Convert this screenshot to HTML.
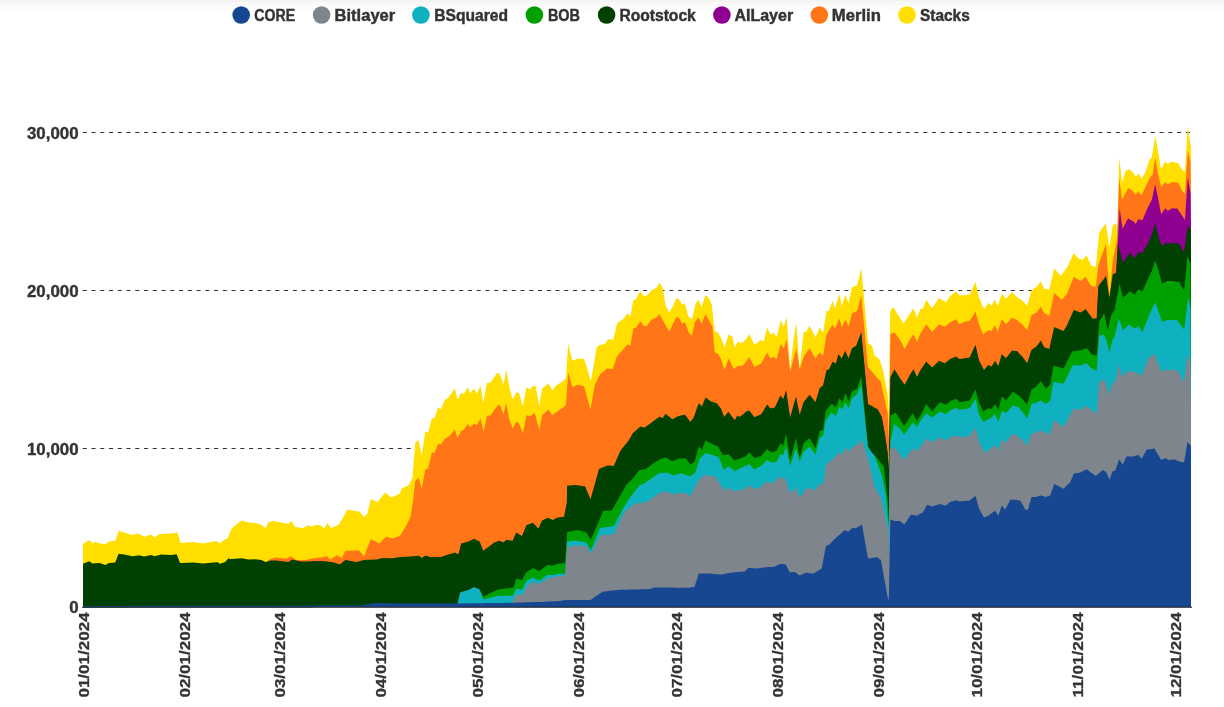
<!DOCTYPE html>
<html><head><meta charset="utf-8"><style>
html,body{margin:0;padding:0;background:#fff;width:1224px;height:707px;overflow:hidden}
.top{position:absolute;left:0;top:0;width:1224px;height:12px;background:linear-gradient(#f4f4f4 0px,#f4f4f4 2px,#f9f9f9 2px,#f9f9f9 5px,#fcfcfc 5px,#fdfdfd 12px)}
svg{position:absolute;left:0;top:0}
.xl,.yl,.lg{font-family:"Liberation Sans",Arial,sans-serif;font-weight:bold;font-size:15.2px;fill:#333}
.lg{font-size:16px;stroke:#333;stroke-width:0.45px}
.yl{font-size:15.6px;stroke:#333;stroke-width:0.35px}
.xl{stroke:#333;stroke-width:0.3px}
</style></head><body>
<div class="top"></div>
<svg width="1224" height="707" viewBox="0 0 1224 707">
<circle cx="241.2" cy="15" r="8.8" fill="#174791"/><text x="254.3" y="21.0" textLength="40.8" lengthAdjust="spacingAndGlyphs" class="lg">CORE</text><circle cx="321.6" cy="15" r="8.8" fill="#7E858D"/><text x="334.6" y="21.0" textLength="60.6" lengthAdjust="spacingAndGlyphs" class="lg">Bitlayer</text><circle cx="420.9" cy="15" r="8.8" fill="#0FB0C0"/><text x="434.3" y="21.0" textLength="73.8" lengthAdjust="spacingAndGlyphs" class="lg">BSquared</text><circle cx="534.4" cy="15" r="8.8" fill="#00A000"/><text x="547.9" y="21.0" textLength="32.1" lengthAdjust="spacingAndGlyphs" class="lg">BOB</text><circle cx="606.6" cy="15" r="8.8" fill="#004000"/><text x="619.4" y="21.0" textLength="76.4" lengthAdjust="spacingAndGlyphs" class="lg">Rootstock</text><circle cx="721.9" cy="15" r="8.8" fill="#900090"/><text x="734.4" y="21.0" textLength="58.8" lengthAdjust="spacingAndGlyphs" class="lg">AILayer</text><circle cx="819.3" cy="15" r="8.8" fill="#FF7518"/><text x="831.8" y="21.0" textLength="49.0" lengthAdjust="spacingAndGlyphs" class="lg">Merlin</text><circle cx="907.0" cy="15" r="8.8" fill="#FFDE00"/><text x="920.0" y="21.0" textLength="49.7" lengthAdjust="spacingAndGlyphs" class="lg">Stacks</text>
<line x1="82.7" x2="1191" y1="448.5" y2="448.5" stroke="#333" stroke-width="1" stroke-dasharray="4.1 4.655"/><line x1="82.7" x2="1191" y1="290.5" y2="290.5" stroke="#333" stroke-width="1" stroke-dasharray="4.1 4.655"/><line x1="82.7" x2="1191" y1="132.5" y2="132.5" stroke="#333" stroke-width="1" stroke-dasharray="4.1 4.655"/>
<path d="M83.0,607.0 L83.0,544.1 89.2,539.9 92.4,543.3 95.7,542.0 99.6,543.3 105.5,544.2 108.8,541.7 109.4,541.2 115.3,540.9 118.6,531.1 124.4,532.4 132.3,535.0 138.2,533.5 138.8,533.8 144.1,536.7 151.2,534.4 154.5,537.4 158.4,534.4 161.0,534.1 165.0,533.7 171.5,533.5 176.7,532.5 177.4,532.4 180.0,540.7 180.7,542.9 193.7,542.0 202.9,543.5 216.6,540.9 217.3,541.5 219.9,543.5 223.8,539.9 225.1,539.4 227.7,538.3 229.0,535.0 230.0,532.5 231.6,528.5 235.1,525.6 241.9,520.2 247.0,522.2 248.7,522.4 255.5,523.1 261.4,524.8 265.6,528.2 268.2,522.2 270.7,521.7 274.1,521.0 275.8,521.4 280.9,522.6 286.0,523.5 288.5,523.9 291.1,520.9 291.9,522.1 295.3,527.0 296.2,527.1 301.3,527.9 303.0,528.2 306.3,526.3 308.0,525.3 309.7,525.9 311.4,526.5 314.8,525.4 316.5,524.8 320.8,525.6 321.6,526.3 324.2,528.7 326.7,524.6 327.6,523.1 330.1,526.9 331.0,528.2 331.8,527.8 336.9,525.6 338.6,524.8 340.3,522.0 342.0,519.3 342.8,518.0 345.4,512.9 347.1,509.5 352.2,510.5 355.6,511.2 356.4,511.3 358.9,511.6 359.8,511.7 360.0,512.0 364.0,517.1 367.4,513.8 370.8,499.3 375.0,500.9 375.9,501.2 377.6,501.9 379.3,499.8 382.7,495.6 385.2,492.5 386.1,493.3 391.2,497.6 392.9,496.8 400.0,493.4 401.4,488.7 402.4,488.2 406.0,486.4 408.8,485.0 410.6,481.4 412.5,477.7 413.4,466.0 415.2,442.7 418.5,440.0 418.9,441.9 421.7,455.6 425.3,431.7 428.1,432.6 429.9,425.7 431.8,418.5 434.5,417.9 438.2,407.4 441.0,409.3 444.6,400.1 448.3,397.7 450.0,395.3 450.2,395.0 454.8,388.5 457.5,399.5 458.4,397.8 460.3,394.4 461.2,392.7 463.9,394.0 467.6,387.2 468.5,389.1 470.4,393.1 474.1,388.5 476.8,394.0 479.6,387.5 480.5,385.4 483.3,403.2 483.6,401.5 486.9,383.0 490.6,382.4 494.3,376.9 497.0,372.9 498.0,373.2 498.9,373.5 499.8,373.8 500.0,374.4 503.5,384.8 505.3,375.0 506.2,370.1 509.0,384.7 509.9,389.4 512.7,399.5 513.6,397.7 516.3,392.2 519.1,393.1 521.9,402.9 522.8,406.0 526.5,387.2 527.4,387.7 530.1,389.4 532.9,386.1 534.7,386.1 535.6,386.1 538.4,401.2 539.3,406.0 540.0,401.6 542.1,388.5 547.6,384.2 548.5,383.5 552.2,390.3 553.1,389.2 555.9,385.7 556.8,385.1 557.7,384.5 560.0,382.9 564.1,380.2 565.0,378.9 565.1,378.8 566.0,377.5 566.9,363.7 567.1,360.6 568.2,343.8 570.3,352.3 572.4,360.8 575.6,359.5 577.7,358.7 584.1,358.7 585.2,362.3 586.2,365.6 590.5,379.7 590.9,381.0 594.7,359.1 596.8,347.0 599.0,345.6 600.0,345.0 603.2,344.3 605.0,343.9 607.1,340.4 607.5,339.8 607.8,339.3 611.7,339.5 612.7,339.6 613.4,339.6 613.8,337.8 617.0,323.5 618.1,322.7 620.2,321.1 621.2,320.4 623.3,318.8 623.4,318.7 624.4,317.5 626.6,314.8 627.6,313.6 628.7,314.5 630.4,316.0 632.9,302.6 633.3,300.4 635.0,299.6 636.1,299.0 639.3,293.1 640.3,291.2 640.4,291.3 643.9,296.2 644.6,296.0 645.7,295.8 646.7,295.5 649.9,292.2 651.6,290.5 652.0,290.3 654.2,289.0 656.6,287.7 658.4,284.4 659.4,282.5 659.5,282.7 662.3,287.0 662.6,288.6 665.8,306.1 666.9,308.1 669.3,312.5 672.2,307.3 672.9,306.1 673.3,305.2 676.4,298.0 678.6,299.3 679.2,299.7 679.6,300.4 680.7,302.3 682.1,304.7 684.9,303.3 686.0,307.5 688.1,315.6 688.4,316.7 689.1,317.1 690.2,317.8 692.0,318.8 693.4,312.9 694.5,308.2 694.8,307.0 695.5,304.0 698.3,299.7 698.7,300.6 699.8,303.1 701.6,307.1 701.9,306.2 705.1,296.1 705.4,295.2 705.5,295.3 709.0,298.3 709.3,299.0 710.4,301.5 711.5,304.0 711.8,304.7 712.5,311.2 713.6,321.5 714.6,330.8 715.7,331.5 716.8,332.1 717.8,332.8 718.2,333.0 718.9,334.3 721.0,338.0 721.7,339.3 722.1,340.5 723.1,343.4 723.8,345.4 724.2,346.6 724.5,347.5 728.4,335.6 728.8,334.4 732.3,336.5 733.7,343.1 734.7,347.8 734.8,347.6 737.0,343.4 737.3,342.8 738.0,341.5 739.1,342.4 740.0,343.1 743.4,342.3 745.0,340.1 745.1,340.0 746.8,337.7 748.5,335.4 749.3,334.3 754.4,344.8 754.8,344.5 761.2,339.7 763.8,341.4 767.1,327.5 767.6,328.6 770.5,334.7 771.4,334.1 771.8,333.8 773.6,332.6 773.9,333.1 774.8,334.5 776.5,337.2 779.2,326.3 780.3,321.8 780.4,321.4 780.7,320.2 783.3,325.9 783.8,327.0 785.6,320.7 786.1,318.9 786.7,316.8 789.8,365.6 790.1,370.3 793.4,339.7 795.1,330.0 796.0,324.8 796.2,323.7 796.3,323.1 799.7,368.6 799.8,367.7 803.6,332.1 804.7,332.1 805.7,332.1 806.2,332.1 809.6,325.8 810.0,326.6 813.2,332.8 814.2,334.7 815.5,337.2 819.5,328.0 819.7,327.5 821.7,330.7 823.1,333.0 823.8,328.5 825.7,316.1 825.9,314.8 826.5,310.9 829.1,310.6 829.9,308.3 831.6,303.3 832.5,300.7 833.3,303.2 835.0,308.4 835.9,305.4 838.4,296.9 839.3,293.9 841.8,305.8 842.6,303.4 845.0,296.3 845.2,295.7 845.5,294.8 848.2,302.2 848.6,303.3 852.0,287.1 852.4,287.0 855.6,286.0 856.2,285.8 857.1,285.5 861.3,268.1 862.0,275.9 868.0,342.9 869.9,344.3 871.9,345.8 873.8,352.3 874.2,353.7 874.8,355.7 876.8,357.3 876.9,357.4 877.8,358.1 879.8,359.7 880.8,363.3 880.9,363.6 881.8,366.8 882.3,368.6 883.7,373.6 884.7,379.0 886.3,387.5 887.7,395.0 888.8,415.0 889.8,340.6 890.2,310.9 890.4,310.7 890.5,310.5 893.3,307.1 894.4,308.9 894.5,309.1 895.8,311.2 897.1,313.4 900.0,318.1 900.9,319.6 903.4,323.6 904.2,322.4 904.7,321.6 910.0,313.4 911.0,312.0 912.7,309.5 913.6,308.2 917.0,317.5 920.4,309.0 922.1,308.8 922.9,308.7 926.3,299.7 927.1,300.9 932.2,308.2 939.0,298.0 939.9,298.6 945.0,301.7 945.8,302.2 950.1,296.3 950.9,295.6 956.0,291.2 959.4,295.4 960.2,295.4 964.5,295.1 966.2,294.9 969.6,294.6 975.5,281.9 978.9,297.1 983.1,307.3 984.0,308.0 984.8,308.7 988.2,303.1 991.6,305.6 995.0,299.2 997.6,306.5 998.4,304.1 1001.8,293.8 1005.2,297.8 1006.0,298.8 1010.3,294.0 1012.0,292.1 1012.8,292.9 1015.4,295.4 1017.1,297.1 1018.8,298.2 1020.5,299.4 1022.2,300.5 1025.6,304.0 1027.2,305.6 1028.1,302.4 1031.5,290.4 1035.7,287.6 1036.6,287.0 1040.8,281.0 1044.2,288.7 1045.9,289.0 1049.3,289.5 1050.2,285.6 1053.4,271.8 1054.2,268.4 1061.0,276.0 1061.9,274.7 1063.6,272.3 1067.0,267.5 1070.4,260.3 1072.1,256.7 1072.9,255.0 1073.8,253.1 1078.0,258.2 1079.7,258.9 1080.5,259.2 1082.2,259.9 1085.6,256.5 1086.5,255.6 1090.7,264.0 1091.6,265.8 1092.4,266.0 1095.8,266.7 1096.7,257.7 1098.4,240.7 1099.2,232.7 1102.6,227.8 1103.5,226.5 1104.3,225.4 1105.7,223.4 1106.0,225.3 1107.7,236.3 1109.4,247.2 1111.1,236.2 1112.8,225.1 1114.5,224.2 1115.3,223.9 1116.2,223.4 1117.0,240.3 1117.9,205.5 1118.7,175.8 1119.2,157.3 1119.6,160.8 1122.1,182.8 1122.6,181.1 1123.0,179.6 1125.5,170.9 1126.4,170.4 1128.1,169.4 1128.9,168.9 1129.8,169.7 1133.1,172.6 1134.0,174.1 1134.8,175.3 1135.7,176.8 1136.5,175.7 1138.2,173.5 1141.6,178.5 1142.5,176.9 1145.0,172.5 1145.9,170.9 1146.7,168.3 1147.6,165.4 1148.4,162.8 1149.3,159.9 1150.1,159.1 1151.8,157.3 1152.7,151.7 1154.4,141.1 1155.2,136.1 1157.8,149.7 1158.6,154.4 1161.1,169.2 1162.0,167.6 1165.4,161.6 1167.1,163.3 1167.9,164.1 1168.8,163.4 1171.3,161.6 1172.2,161.8 1174.7,162.5 1177.3,163.1 1178.1,163.3 1179.0,164.7 1182.4,170.1 1184.1,171.3 1184.9,171.8 1186.6,144.9 1187.5,130.6 1187.8,125.9 1188.3,129.5 1190.5,145.5 1191.0,145.5 L1191.0,607.0 Z" fill="#FFDE00"/><path d="M83.0,607.0 L83.0,565.3 89.2,562.7 92.4,565.0 95.7,564.7 99.6,564.4 105.5,566.6 108.8,564.4 109.4,564.4 115.3,564.0 118.6,555.2 124.4,556.1 132.3,557.8 138.2,556.9 138.8,556.8 144.1,558.1 151.2,556.5 154.5,557.8 158.4,556.8 161.0,556.1 165.0,556.3 171.5,556.5 176.7,555.7 177.4,557.5 180.0,564.4 180.7,564.4 193.7,564.0 202.9,564.9 216.6,563.7 217.3,563.6 219.9,565.3 223.8,564.0 225.1,563.6 227.7,560.8 229.0,559.4 230.0,560.7 231.6,560.6 235.1,560.3 241.9,559.7 247.0,560.8 248.7,561.1 255.5,560.7 261.4,561.4 265.6,563.6 268.2,560.4 270.7,558.7 274.1,557.9 275.8,557.5 280.9,558.1 286.0,558.7 288.5,557.6 291.1,556.5 291.9,557.0 295.3,559.3 296.2,559.9 301.3,559.9 303.0,559.9 306.3,559.9 308.0,559.5 309.7,559.1 311.4,558.7 314.8,557.9 316.5,557.8 320.8,557.5 321.6,557.5 324.2,556.8 326.7,556.2 327.6,557.1 330.1,559.6 331.0,559.0 331.8,558.5 336.9,555.3 338.6,556.2 340.3,557.0 342.0,557.9 342.8,556.2 345.4,550.7 347.1,550.7 352.2,550.7 355.6,550.4 356.4,550.4 358.9,550.2 359.8,551.3 360.0,551.5 364.0,556.2 367.4,547.7 370.8,539.2 375.0,541.3 375.9,541.7 377.6,542.6 379.3,543.4 382.7,540.1 385.2,537.6 386.1,536.7 391.2,538.0 392.9,538.4 400.0,535.8 401.4,533.5 402.4,531.9 406.0,526.0 408.8,520.4 410.6,516.8 412.5,504.3 413.4,498.4 415.2,481.3 418.5,477.7 418.9,479.1 421.7,488.7 425.3,469.4 428.1,468.5 429.9,460.9 431.8,452.8 434.5,452.8 438.2,443.7 441.0,444.6 444.6,439.1 448.3,436.7 450.0,435.5 450.2,435.4 454.8,429.5 457.5,438.1 458.4,436.3 460.3,432.6 461.2,430.8 463.9,429.9 467.6,424.0 468.5,425.0 470.4,427.1 474.1,423.4 476.8,425.3 479.6,420.2 480.5,418.5 483.3,430.8 483.6,432.1 486.9,416.1 490.6,415.2 494.3,410.1 497.0,406.4 498.0,405.0 498.9,405.0 499.8,405.0 500.0,405.5 503.5,414.2 505.3,406.5 506.2,402.7 509.0,418.8 509.9,421.1 512.7,428.4 513.6,426.7 516.3,421.6 519.1,423.4 521.9,431.0 522.8,433.5 526.5,415.2 527.4,415.4 530.1,416.1 532.9,414.2 534.7,413.0 535.6,416.3 538.4,426.6 539.3,429.9 540.0,426.2 542.1,415.2 547.6,410.4 548.5,409.6 552.2,415.2 553.1,414.5 555.9,412.4 556.8,411.8 557.7,411.2 560.0,409.6 564.1,406.9 565.0,405.6 565.1,405.4 566.0,404.1 566.9,391.2 567.1,388.3 568.2,372.5 570.3,379.9 572.4,387.3 575.6,385.8 577.7,384.8 584.1,386.3 585.2,390.3 586.2,393.9 590.5,409.6 590.9,407.3 594.7,385.2 596.8,381.0 599.0,376.6 600.0,374.6 603.2,371.8 605.0,370.2 607.1,368.3 607.5,368.4 607.8,368.4 611.7,369.0 612.7,369.1 613.4,367.0 613.8,365.8 617.0,356.3 618.1,355.0 620.2,352.6 621.2,351.4 623.3,349.1 623.4,349.0 624.4,347.9 626.6,345.4 627.6,344.3 628.7,344.9 630.4,345.7 632.9,331.0 633.3,328.7 635.0,328.1 636.1,327.7 639.3,322.7 640.3,321.2 640.4,321.3 643.9,325.9 644.6,325.9 645.7,325.9 646.7,325.9 649.9,321.7 651.6,319.5 652.0,319.3 654.2,318.4 656.6,317.4 658.4,315.3 659.4,314.1 659.5,314.3 662.3,319.2 662.6,319.8 665.8,325.4 666.9,327.4 669.3,331.6 672.2,325.5 672.9,324.0 673.3,323.2 676.4,316.7 678.6,317.8 679.2,318.1 679.6,318.9 680.7,321.0 682.1,323.8 684.9,322.1 686.0,325.0 688.1,330.4 688.4,331.2 689.1,333.0 690.2,334.1 692.0,335.8 693.4,329.1 694.5,323.8 694.8,322.4 695.5,321.4 698.3,317.4 698.7,318.2 699.8,320.3 701.6,323.8 701.9,323.0 705.1,314.9 705.4,314.1 705.5,314.3 709.0,320.6 709.3,321.1 710.4,323.1 711.5,324.9 711.8,325.4 712.5,326.6 713.6,340.0 714.6,352.1 715.7,352.7 716.8,353.4 717.8,354.0 718.2,354.2 718.9,355.4 721.0,359.1 721.7,361.2 722.1,362.5 723.1,365.5 723.8,367.7 724.2,368.9 724.5,369.8 728.4,359.5 728.8,358.4 732.3,366.0 733.7,369.1 734.7,368.3 734.8,368.2 737.0,366.4 737.3,366.2 738.0,366.1 739.1,366.1 740.0,366.0 743.4,365.2 745.0,363.0 745.1,362.8 746.8,360.5 748.5,358.1 749.3,357.0 754.4,366.9 754.8,366.7 761.2,363.5 763.8,358.7 767.1,352.5 767.6,353.4 770.5,358.4 771.4,357.9 771.8,357.7 773.6,356.7 773.9,357.0 774.8,357.8 776.5,359.3 779.2,349.5 780.3,345.5 780.4,345.1 780.7,344.0 783.3,347.5 783.8,348.2 785.6,342.4 786.1,340.8 786.7,338.9 789.8,368.6 790.1,371.5 793.4,359.1 795.1,352.7 796.0,349.3 796.2,348.6 796.3,348.2 799.7,369.5 799.8,369.2 803.6,356.7 804.7,355.1 805.7,353.7 806.2,353.0 809.6,348.2 810.0,348.9 813.2,354.4 814.2,356.2 815.5,358.4 819.5,352.8 819.7,352.5 821.7,354.5 823.1,355.9 823.8,351.5 825.7,339.7 825.9,338.4 826.5,334.7 829.1,330.3 829.9,328.9 831.6,326.0 832.5,324.5 833.3,325.8 835.0,328.7 835.9,326.6 838.4,320.6 839.3,318.5 841.8,327.0 842.6,325.4 845.0,320.4 845.2,320.0 845.5,319.4 848.2,325.6 848.6,326.5 852.0,313.4 852.4,313.2 855.6,311.6 856.2,311.3 857.1,310.9 861.3,295.6 862.0,303.1 868.0,367.6 869.9,369.5 871.9,371.6 873.8,373.9 874.2,374.4 874.8,375.1 876.8,377.5 876.9,377.6 877.8,378.5 879.8,380.5 880.8,381.5 880.9,382.0 881.8,386.3 882.3,388.6 883.7,395.3 884.7,399.8 886.3,406.9 887.7,413.2 888.8,440.0 889.8,377.5 890.2,352.5 890.4,340.0 890.5,333.8 893.3,332.9 894.4,332.5 894.5,332.5 895.8,334.3 897.1,336.1 900.0,340.1 900.9,341.4 903.4,346.5 904.2,348.1 904.7,349.1 910.0,338.9 911.0,337.7 912.7,335.6 913.6,334.5 917.0,342.1 920.4,333.6 922.1,330.9 922.9,329.7 926.3,324.3 927.1,325.3 932.2,331.9 939.0,324.3 939.9,324.7 945.0,326.8 945.8,326.1 950.1,322.6 950.9,322.1 956.0,319.2 959.4,324.3 960.2,323.9 964.5,321.7 966.2,321.4 969.6,320.9 975.5,311.6 978.9,324.3 983.1,334.5 984.0,333.7 984.8,333.1 988.2,330.2 991.6,331.1 995.0,325.1 997.6,331.9 998.4,329.5 1001.8,319.2 1005.2,323.3 1006.0,324.3 1010.3,319.4 1012.0,317.5 1012.8,317.9 1015.4,319.2 1017.1,320.1 1018.8,321.5 1020.5,322.9 1022.2,324.3 1025.6,328.3 1027.2,330.2 1028.1,327.0 1031.5,315.0 1035.7,312.9 1036.6,312.4 1040.8,306.5 1044.2,313.3 1045.9,314.1 1049.3,315.8 1050.2,311.6 1053.4,296.7 1054.2,293.0 1061.0,299.0 1061.9,299.8 1063.6,297.8 1067.0,293.8 1070.4,285.3 1072.1,281.1 1072.9,279.0 1073.8,276.8 1078.0,279.5 1079.7,280.6 1080.5,281.1 1082.2,279.7 1085.6,276.8 1086.5,278.3 1090.7,285.3 1091.6,285.6 1092.4,285.9 1095.8,287.0 1096.7,279.4 1098.4,265.0 1099.2,262.8 1102.6,253.3 1103.5,250.8 1104.3,248.5 1105.7,244.6 1106.0,243.8 1107.7,270.1 1109.4,296.4 1111.1,278.6 1112.8,260.7 1114.5,252.2 1115.3,248.3 1116.2,243.8 1117.0,238.8 1117.9,214.1 1118.7,192.2 1119.2,178.5 1119.6,181.4 1122.1,199.8 1122.6,198.8 1123.0,198.0 1125.5,193.1 1126.4,191.3 1128.1,187.9 1128.9,188.4 1129.8,189.1 1133.1,191.3 1134.0,192.5 1134.8,193.5 1135.7,194.7 1136.5,193.6 1138.2,191.3 1141.6,195.5 1142.5,193.5 1145.0,187.9 1145.9,186.1 1146.7,184.5 1147.6,182.7 1148.4,181.1 1149.3,179.3 1150.1,177.7 1151.8,175.5 1152.7,174.3 1154.4,162.7 1155.2,157.3 1157.8,172.6 1158.6,176.1 1161.1,187.0 1162.0,185.9 1165.4,181.9 1167.1,183.7 1167.9,184.5 1168.8,184.0 1171.3,182.4 1172.2,181.9 1174.7,182.3 1177.3,182.7 1178.1,182.8 1179.0,184.6 1182.4,191.3 1184.1,193.0 1184.9,193.8 1186.6,168.4 1187.5,155.0 1187.8,150.5 1188.3,152.7 1190.5,162.4 1191.0,231.7 L1191.0,607.0 Z" fill="#FF7518"/><path d="M83.0,607.0 L83.0,565.3 89.2,562.7 92.4,565.0 95.7,564.7 99.6,564.4 105.5,566.6 108.8,564.4 109.4,564.4 115.3,564.0 118.6,555.2 124.4,556.1 132.3,557.8 138.2,556.9 138.8,556.8 144.1,558.1 151.2,556.5 154.5,557.8 158.4,556.8 161.0,556.1 165.0,556.3 171.5,556.5 176.7,555.7 177.4,557.5 180.0,564.4 180.7,564.4 193.7,564.0 202.9,564.9 216.6,563.7 217.3,563.6 219.9,565.3 223.8,564.0 225.1,563.6 227.7,560.8 229.0,559.4 230.0,560.7 231.6,560.6 235.1,560.3 241.9,559.7 247.0,560.8 248.7,561.1 255.5,560.7 261.4,561.4 265.6,563.6 268.2,562.7 270.7,561.9 274.1,562.1 275.8,562.1 280.9,562.4 286.0,563.2 288.5,563.6 291.1,561.7 291.9,561.1 295.3,561.8 296.2,562.0 301.3,563.1 303.0,563.0 306.3,562.9 308.0,562.9 309.7,562.8 311.4,562.7 314.8,562.6 316.5,562.6 320.8,562.4 321.6,562.4 324.2,562.7 326.7,563.0 327.6,563.1 330.1,563.4 331.0,563.5 331.8,563.6 336.9,564.9 338.6,565.4 340.3,565.8 342.0,564.3 342.8,563.6 345.4,561.4 347.1,561.7 352.2,562.8 355.6,563.4 356.4,563.6 358.9,562.9 359.8,562.6 360.0,562.6 364.0,561.4 367.4,561.3 370.8,561.2 375.0,561.1 375.9,561.1 377.6,560.7 379.3,560.2 382.7,559.4 385.2,559.5 386.1,559.5 391.2,559.7 392.9,559.7 400.0,558.5 401.4,558.4 402.4,558.4 406.0,558.2 408.8,558.1 410.6,558.0 412.5,557.8 413.4,557.8 415.2,557.6 418.5,557.2 418.9,557.2 421.7,559.6 425.3,556.9 428.1,557.8 429.9,558.4 431.8,558.4 434.5,558.4 438.2,558.4 441.0,558.4 444.6,557.2 448.3,556.0 450.0,555.5 450.2,555.4 454.8,554.1 457.5,555.5 458.4,556.0 460.3,548.5 461.2,544.9 463.9,544.2 467.6,543.3 468.5,543.1 470.4,542.1 474.1,540.3 476.8,541.7 479.6,543.1 480.5,545.3 483.3,552.3 483.6,552.1 486.9,549.5 490.6,546.8 494.3,544.0 497.0,542.9 498.0,542.6 498.9,542.2 499.8,542.6 500.0,542.6 503.5,544.0 505.3,542.2 506.2,541.3 509.0,541.7 509.9,541.8 512.7,542.2 513.6,540.1 516.3,533.9 519.1,535.8 521.9,537.6 522.8,535.4 526.5,526.5 527.4,526.2 530.1,525.2 532.9,524.2 534.7,526.2 535.6,527.1 538.4,530.2 539.3,528.2 540.0,526.6 542.1,521.9 547.6,519.2 548.5,519.6 552.2,521.2 553.1,521.6 555.9,519.8 556.8,519.2 557.7,519.1 560.0,518.8 564.1,518.3 565.0,513.6 565.1,513.0 566.0,508.3 566.9,503.6 567.1,487.0 568.2,487.0 570.3,487.0 572.4,486.8 575.6,486.5 577.7,486.8 584.1,487.8 585.2,488.0 586.2,490.4 590.5,500.8 590.9,499.4 594.7,485.9 596.8,478.5 599.0,470.5 600.0,470.1 603.2,468.7 605.0,468.0 607.1,467.1 607.5,466.9 607.8,466.9 611.7,467.2 612.7,467.3 613.4,467.4 613.8,467.4 617.0,459.9 618.1,457.4 620.2,452.5 621.2,451.3 623.3,448.6 623.4,448.5 624.4,447.3 626.6,444.5 627.6,443.3 628.7,441.9 630.4,438.9 632.9,434.5 633.3,434.2 635.0,432.7 636.1,431.8 639.3,429.0 640.3,428.2 640.4,428.1 643.9,428.9 644.6,429.1 645.7,428.3 646.7,427.6 649.9,425.3 651.6,424.1 652.0,423.8 654.2,422.1 656.6,420.3 658.4,418.9 659.4,418.2 659.5,418.1 662.3,419.5 662.6,419.6 665.8,415.3 666.9,416.2 669.3,418.3 672.2,420.7 672.9,420.4 673.3,420.2 676.4,418.6 678.6,417.5 679.2,417.4 679.6,417.3 680.7,417.0 682.1,416.7 684.9,416.0 686.0,417.5 688.1,420.3 688.4,420.8 689.1,421.7 690.2,423.2 692.0,421.2 693.4,419.6 694.5,416.5 694.8,415.7 695.5,413.7 698.3,405.8 698.7,404.7 699.8,405.8 701.6,407.6 701.9,407.9 705.1,400.0 705.4,399.2 705.5,399.0 709.0,401.4 709.3,401.7 710.4,402.4 711.5,403.2 711.8,403.3 712.5,403.5 713.6,403.8 714.6,404.1 715.7,404.4 716.8,404.7 717.8,406.0 718.2,406.5 718.9,407.4 721.0,410.0 721.7,411.9 722.1,412.9 723.1,415.6 723.8,417.4 724.2,418.5 724.5,418.1 728.4,413.2 728.8,413.7 732.3,418.4 733.7,420.2 734.7,421.6 734.8,421.7 737.0,417.5 737.3,417.6 738.0,417.8 739.1,418.1 740.0,418.3 743.4,415.4 745.0,414.0 745.1,413.9 746.8,412.4 748.5,412.2 749.3,412.1 754.4,418.8 754.8,418.6 761.2,415.8 763.8,411.5 767.1,406.0 767.6,406.6 770.5,409.9 771.4,409.7 771.8,409.6 773.6,409.3 773.9,409.2 774.8,409.0 776.5,405.4 779.2,399.6 780.3,397.3 780.4,397.1 780.7,397.5 783.3,400.5 783.8,398.9 785.6,393.3 786.1,391.7 786.7,395.8 789.8,417.1 790.1,419.2 793.4,407.3 795.1,401.2 796.0,398.0 796.2,399.0 796.3,399.5 799.7,416.6 799.8,416.3 803.6,403.6 804.7,402.3 805.7,401.0 806.2,400.4 809.6,396.3 810.0,396.8 813.2,400.8 814.2,402.0 815.5,403.6 819.5,390.2 819.7,389.5 821.7,388.0 823.1,386.9 823.8,383.8 825.7,375.3 825.9,374.4 826.5,371.7 829.1,370.8 829.9,369.0 831.6,365.2 832.5,363.2 833.3,363.6 835.0,364.5 835.9,365.0 838.4,355.7 839.3,356.8 841.8,359.9 842.6,358.1 845.0,352.7 845.2,352.3 845.5,353.0 848.2,359.0 848.6,359.9 852.0,349.7 852.4,349.5 855.6,347.6 856.2,347.2 857.1,344.8 861.3,333.6 862.0,341.1 868.0,405.5 869.9,406.5 871.9,407.6 873.8,408.7 874.2,408.9 874.8,409.2 876.8,410.2 876.9,410.2 877.8,410.7 879.8,414.6 880.8,416.6 880.9,416.8 881.8,418.6 882.3,421.3 883.7,429.0 884.7,434.5 886.3,445.1 887.7,454.3 888.8,471.5 889.8,416.8 890.2,394.9 890.4,384.0 890.5,378.5 893.3,373.2 894.4,371.1 894.5,370.9 895.8,373.0 897.1,375.0 900.0,379.7 900.9,381.1 903.4,384.5 904.2,385.5 904.7,386.2 910.0,376.0 911.0,374.6 912.7,372.1 913.6,370.8 917.0,378.4 920.4,371.6 922.1,369.2 922.9,368.0 926.3,363.1 927.1,363.9 932.2,369.1 939.0,362.3 939.9,362.7 945.0,364.8 945.8,364.1 950.1,360.6 950.9,360.2 956.0,358.0 959.4,360.6 960.2,360.5 964.5,359.7 966.2,359.4 969.6,358.9 975.5,346.2 978.9,361.4 983.1,369.8 984.0,371.6 984.8,370.6 988.2,366.5 991.6,367.9 995.0,362.3 997.6,366.2 998.4,367.4 1001.8,355.5 1005.2,358.9 1006.0,359.7 1010.3,354.3 1012.0,352.1 1012.8,352.2 1015.4,352.4 1017.1,352.6 1018.8,354.4 1020.5,356.2 1022.2,358.0 1025.6,362.6 1027.2,364.8 1028.1,362.0 1031.5,351.2 1035.7,348.4 1036.6,347.8 1040.8,341.9 1044.2,348.7 1045.9,349.3 1049.3,350.4 1050.2,346.4 1053.4,332.0 1054.2,328.4 1061.0,331.4 1061.9,331.8 1063.6,332.6 1067.0,326.7 1070.4,319.0 1072.1,315.2 1072.9,313.4 1073.8,311.4 1078.0,313.0 1079.7,313.7 1080.5,314.0 1082.2,312.9 1085.6,310.6 1086.5,311.8 1090.7,317.6 1091.6,318.8 1092.4,319.9 1095.8,319.9 1096.7,319.9 1098.4,287.7 1099.2,286.6 1102.6,282.1 1103.5,280.9 1104.3,279.8 1105.7,277.9 1106.0,277.5 1107.7,288.6 1109.4,299.6 1111.1,287.7 1112.8,275.8 1114.5,275.0 1115.3,274.6 1116.2,274.1 1117.0,257.4 1117.9,240.4 1118.7,225.2 1119.2,215.8 1119.6,208.2 1122.1,225.2 1122.6,228.6 1123.0,227.9 1125.5,223.2 1126.4,221.6 1128.1,218.4 1128.9,218.9 1129.8,219.4 1133.1,221.3 1134.0,221.8 1134.8,222.8 1135.7,223.9 1136.5,222.4 1138.2,219.3 1141.6,219.9 1142.5,220.1 1145.0,214.0 1145.9,211.8 1146.7,209.9 1147.6,208.1 1148.4,206.5 1149.3,204.8 1150.1,203.2 1151.8,199.8 1152.7,195.7 1154.4,188.1 1155.2,184.5 1157.8,196.4 1158.6,200.7 1161.1,214.2 1162.0,212.9 1165.4,208.2 1167.1,210.0 1167.9,210.8 1168.8,210.3 1171.3,208.7 1172.2,208.2 1174.7,208.4 1177.3,208.6 1178.1,209.7 1179.0,211.0 1182.4,215.9 1184.1,218.8 1184.9,220.1 1186.6,195.2 1187.5,182.1 1187.8,177.7 1188.3,180.5 1190.5,193.0 1191.0,231.7 L1191.0,607.0 Z" fill="#900090"/><path d="M83.0,607.0 L83.0,563.8 89.2,561.2 92.4,563.5 95.7,563.2 99.6,562.9 105.5,565.1 108.8,562.9 109.4,562.9 115.3,562.5 118.6,553.7 124.4,554.6 132.3,556.3 138.2,555.4 138.8,555.3 144.1,556.6 151.2,555.0 154.5,556.3 158.4,555.3 161.0,554.6 165.0,554.8 171.5,555.0 176.7,554.2 177.4,556.0 180.0,562.9 180.7,562.9 193.7,562.5 202.9,563.4 216.6,562.2 217.3,562.1 219.9,563.8 223.8,562.5 225.1,562.1 227.7,559.3 229.0,557.9 230.0,559.2 231.6,559.1 235.1,558.8 241.9,558.2 247.0,559.2 248.7,559.6 255.5,559.2 261.4,559.9 265.6,562.1 268.2,561.2 270.7,560.4 274.1,560.6 275.8,560.6 280.9,560.9 286.0,561.7 288.5,562.1 291.1,560.2 291.9,559.6 295.3,560.3 296.2,560.5 301.3,561.6 303.0,561.5 306.3,561.4 308.0,561.4 309.7,561.3 311.4,561.2 314.8,561.1 316.5,561.1 320.8,560.9 321.6,560.9 324.2,561.2 326.7,561.5 327.6,561.6 330.1,561.9 331.0,562.0 331.8,562.1 336.9,563.4 338.6,563.9 340.3,564.3 342.0,562.8 342.8,562.1 345.4,559.9 347.1,560.2 352.2,561.3 355.6,561.9 356.4,562.1 358.9,561.4 359.8,561.1 360.0,561.1 364.0,559.9 367.4,559.8 370.8,559.7 375.0,559.6 375.9,559.6 377.6,559.2 379.3,558.8 382.7,557.9 385.2,558.0 386.1,558.0 391.2,558.2 392.9,558.2 400.0,557.0 401.4,556.9 402.4,556.9 406.0,556.7 408.8,556.6 410.6,556.5 412.5,556.3 413.4,556.3 415.2,556.1 418.5,555.7 418.9,555.7 421.7,558.1 425.3,555.4 428.1,556.3 429.9,556.9 431.8,556.9 434.5,556.9 438.2,556.9 441.0,556.9 444.6,555.7 448.3,554.5 450.0,554.0 450.2,553.9 454.8,552.6 457.5,554.0 458.4,554.5 460.3,547.0 461.2,543.4 463.9,542.7 467.6,541.8 468.5,541.6 470.4,540.6 474.1,538.8 476.8,540.2 479.6,541.6 480.5,543.8 483.3,550.8 483.6,550.6 486.9,548.0 490.6,545.2 494.3,542.5 497.0,541.4 498.0,541.1 498.9,540.7 499.8,541.1 500.0,541.1 503.5,542.5 505.3,540.7 506.2,539.8 509.0,540.2 509.9,540.3 512.7,540.7 513.6,538.6 516.3,532.4 519.1,534.2 521.9,536.1 522.8,533.9 526.5,525.0 527.4,524.7 530.1,523.7 532.9,522.7 534.7,524.7 535.6,525.6 538.4,528.7 539.3,526.7 540.0,525.1 542.1,520.4 547.6,517.7 548.5,518.1 552.2,519.7 553.1,520.1 555.9,518.3 556.8,517.7 557.7,517.6 560.0,517.3 564.1,516.8 565.0,512.1 565.1,511.5 566.0,506.8 566.9,502.1 567.1,485.5 568.2,485.5 570.3,485.5 572.4,485.3 575.6,485.0 577.7,485.3 584.1,486.3 585.2,486.5 586.2,488.9 590.5,499.3 590.9,497.9 594.7,484.4 596.8,477.0 599.0,469.0 600.0,468.6 603.2,467.2 605.0,466.5 607.1,465.6 607.5,465.4 607.8,465.4 611.7,465.7 612.7,465.8 613.4,465.9 613.8,465.9 617.0,458.4 618.1,455.9 620.2,451.0 621.2,449.8 623.3,447.1 623.4,447.0 624.4,445.8 626.6,443.0 627.6,441.8 628.7,440.4 630.4,437.4 632.9,433.0 633.3,432.7 635.0,431.2 636.1,430.3 639.3,427.5 640.3,426.7 640.4,426.6 643.9,427.4 644.6,427.6 645.7,426.8 646.7,426.1 649.9,423.8 651.6,422.6 652.0,422.3 654.2,420.6 656.6,418.8 658.4,417.4 659.4,416.7 659.5,416.6 662.3,418.0 662.6,418.1 665.8,413.8 666.9,414.7 669.3,416.8 672.2,419.2 672.9,418.9 673.3,418.7 676.4,417.1 678.6,416.0 679.2,415.9 679.6,415.8 680.7,415.5 682.1,415.2 684.9,414.5 686.0,416.0 688.1,418.8 688.4,419.3 689.1,420.2 690.2,421.7 692.0,419.7 693.4,418.1 694.5,415.0 694.8,414.2 695.5,412.2 698.3,404.3 698.7,403.2 699.8,404.3 701.6,406.1 701.9,406.4 705.1,398.5 705.4,397.7 705.5,397.5 709.0,399.9 709.3,400.2 710.4,400.9 711.5,401.7 711.8,401.8 712.5,402.0 713.6,402.3 714.6,402.6 715.7,402.9 716.8,403.2 717.8,404.5 718.2,405.0 718.9,405.9 721.0,408.5 721.7,410.4 722.1,411.4 723.1,414.1 723.8,415.9 724.2,417.0 724.5,416.6 728.4,411.7 728.8,412.2 732.3,416.9 733.7,418.7 734.7,420.1 734.8,420.2 737.0,416.0 737.3,416.1 738.0,416.3 739.1,416.6 740.0,416.8 743.4,413.9 745.0,412.5 745.1,412.4 746.8,410.9 748.5,410.7 749.3,410.6 754.4,417.3 754.8,417.1 761.2,414.3 763.8,410.0 767.1,404.5 767.6,405.1 770.5,408.4 771.4,408.2 771.8,408.1 773.6,407.8 773.9,407.7 774.8,407.5 776.5,403.9 779.2,398.1 780.3,395.8 780.4,395.6 780.7,396.0 783.3,399.0 783.8,397.4 785.6,391.8 786.1,390.2 786.7,394.3 789.8,415.6 790.1,417.7 793.4,405.8 795.1,399.7 796.0,396.5 796.2,397.5 796.3,398.0 799.7,415.1 799.8,414.8 803.6,402.1 804.7,400.8 805.7,399.5 806.2,398.9 809.6,394.8 810.0,395.3 813.2,399.3 814.2,400.5 815.5,402.1 819.5,388.7 819.7,388.0 821.7,386.5 823.1,385.4 823.8,382.3 825.7,373.8 825.9,372.9 826.5,370.2 829.1,369.3 829.9,367.5 831.6,363.7 832.5,361.7 833.3,362.1 835.0,363.0 835.9,363.5 838.4,354.2 839.3,355.3 841.8,358.4 842.6,356.6 845.0,351.2 845.2,350.8 845.5,351.5 848.2,357.5 848.6,358.4 852.0,348.2 852.4,348.0 855.6,346.1 856.2,345.7 857.1,343.3 861.3,332.1 862.0,339.6 868.0,404.0 869.9,405.0 871.9,406.1 873.8,407.2 874.2,407.4 874.8,407.7 876.8,408.7 876.9,408.8 877.8,409.2 879.8,413.1 880.8,415.1 880.9,415.3 881.8,417.1 882.3,419.8 883.7,427.5 884.7,433.0 886.3,443.6 887.7,452.8 888.8,470.0 889.8,415.3 890.2,393.4 890.4,382.5 890.5,377.0 893.3,371.7 894.4,369.6 894.5,369.4 895.8,371.5 897.1,373.5 900.0,378.2 900.9,379.6 903.4,383.0 904.2,384.0 904.7,384.7 910.0,374.5 911.0,373.1 912.7,370.6 913.6,369.3 917.0,376.9 920.4,370.1 922.1,367.7 922.9,366.5 926.3,361.6 927.1,362.4 932.2,367.6 939.0,360.8 939.9,361.2 945.0,363.3 945.8,362.6 950.1,359.1 950.9,358.7 956.0,356.5 959.4,359.1 960.2,359.0 964.5,358.2 966.2,357.9 969.6,357.4 975.5,344.7 978.9,359.9 983.1,368.3 984.0,370.1 984.8,369.1 988.2,365.0 991.6,366.4 995.0,360.8 997.6,364.7 998.4,365.9 1001.8,354.0 1005.2,357.4 1006.0,358.2 1010.3,352.8 1012.0,350.6 1012.8,350.7 1015.4,350.9 1017.1,351.1 1018.8,352.9 1020.5,354.7 1022.2,356.5 1025.6,361.1 1027.2,363.3 1028.1,360.5 1031.5,349.7 1035.7,346.9 1036.6,346.3 1040.8,340.4 1044.2,347.2 1045.9,347.8 1049.3,348.9 1050.2,344.9 1053.4,330.5 1054.2,326.9 1061.0,329.9 1061.9,330.3 1063.6,331.1 1067.0,325.2 1070.4,317.5 1072.1,313.7 1072.9,311.9 1073.8,309.9 1078.0,311.5 1079.7,312.2 1080.5,312.5 1082.2,311.4 1085.6,309.1 1086.5,310.3 1090.7,316.1 1091.6,317.3 1092.4,318.4 1095.8,318.4 1096.7,318.4 1098.4,286.2 1099.2,285.1 1102.6,280.6 1103.5,279.4 1104.3,278.3 1105.7,276.4 1106.0,276.0 1107.7,287.1 1109.4,298.1 1111.1,286.2 1112.8,274.3 1114.5,273.5 1115.3,273.1 1116.2,272.6 1117.0,259.0 1117.9,243.8 1118.7,246.7 1119.2,248.5 1119.6,250.0 1122.1,259.1 1122.6,260.9 1123.0,262.4 1125.5,259.0 1126.4,257.7 1128.1,255.4 1128.9,254.3 1129.8,253.1 1133.1,256.5 1134.0,257.4 1134.8,258.2 1135.7,256.6 1136.5,255.2 1138.2,252.2 1141.6,252.9 1142.5,253.1 1145.0,248.5 1145.9,246.9 1146.7,245.4 1147.6,243.8 1148.4,242.2 1149.3,240.4 1150.1,238.7 1151.8,235.3 1152.7,232.1 1154.4,226.2 1155.2,223.4 1157.8,233.8 1158.6,237.0 1161.1,243.8 1162.0,246.3 1165.4,242.9 1167.1,243.3 1167.9,243.6 1168.8,243.8 1171.3,243.1 1172.2,242.9 1174.7,243.2 1177.3,243.6 1178.1,243.7 1179.0,243.8 1182.4,249.4 1184.1,252.2 1184.9,246.2 1186.6,233.6 1187.5,229.1 1187.8,227.6 1188.3,225.1 1190.5,230.2 1191.0,230.2 L1191.0,607.0 Z" fill="#004000"/><path d="M83.0,607.0 L83.0,607.4 89.2,607.4 92.4,607.4 95.7,607.4 99.6,607.4 105.5,607.4 108.8,607.4 109.4,607.4 115.3,607.4 118.6,607.4 124.4,607.4 132.3,607.3 138.2,607.3 138.8,607.3 144.1,607.3 151.2,607.3 154.5,607.3 158.4,607.3 161.0,607.3 165.0,607.3 171.5,607.3 176.7,607.3 177.4,607.3 180.0,607.3 180.7,607.3 193.7,607.3 202.9,607.3 216.6,607.3 217.3,607.3 219.9,607.3 223.8,607.2 225.1,607.2 227.7,607.2 229.0,607.2 230.0,607.2 231.6,607.2 235.1,607.2 241.9,607.2 247.0,607.2 248.7,607.2 255.5,607.2 261.4,607.2 265.6,607.2 268.2,607.2 270.7,607.2 274.1,607.2 275.8,607.2 280.9,607.2 286.0,607.2 288.5,607.2 291.1,607.2 291.9,607.2 295.3,607.2 296.2,607.2 301.3,607.2 303.0,607.2 306.3,607.2 308.0,607.2 309.7,607.2 311.4,607.2 314.8,607.1 316.5,607.1 320.8,607.1 321.6,607.1 324.2,607.1 326.7,607.1 327.6,607.1 330.1,607.1 331.0,607.1 331.8,607.1 336.9,607.1 338.6,607.1 340.3,607.1 342.0,607.1 342.8,607.1 345.4,607.1 347.1,607.1 352.2,607.1 355.6,607.1 356.4,607.1 358.9,607.1 359.8,607.1 360.0,607.1 364.0,606.4 367.4,605.8 370.8,605.2 375.0,604.5 375.9,604.5 377.6,604.6 379.3,604.6 382.7,604.7 385.2,604.7 386.1,604.7 391.2,604.8 392.9,604.9 400.0,605.0 401.4,605.0 402.4,605.0 406.0,605.0 408.8,605.0 410.6,605.0 412.5,605.0 413.4,605.0 415.2,605.0 418.5,605.0 418.9,605.0 421.7,605.0 425.3,605.0 428.1,605.0 429.9,605.0 431.8,605.0 434.5,605.0 438.2,605.0 441.0,605.0 444.6,605.0 448.3,605.0 450.0,605.0 450.2,605.0 454.8,605.0 457.5,604.7 458.4,601.2 460.3,593.7 461.2,593.4 463.9,592.7 467.6,591.7 468.5,591.4 470.4,590.4 474.1,588.5 476.8,589.7 479.6,590.9 480.5,591.2 483.3,596.7 483.6,596.6 486.9,594.9 490.6,593.1 494.3,591.2 497.0,589.9 498.0,589.4 498.9,589.3 499.8,589.2 500.0,589.2 503.5,588.7 505.3,588.5 506.2,588.4 509.0,588.1 509.9,588.0 512.7,587.7 513.6,587.6 516.3,578.4 519.1,579.3 521.9,580.2 522.8,578.6 526.5,571.9 527.4,571.4 530.1,569.9 532.9,568.3 534.7,569.1 535.6,569.4 538.4,570.6 539.3,571.0 540.0,570.5 542.1,568.9 547.6,564.9 548.5,565.0 552.2,565.4 553.1,565.5 555.9,564.4 556.8,564.1 557.7,563.7 560.0,563.5 564.1,563.2 565.0,563.1 565.1,563.1 566.0,549.2 566.9,535.3 567.1,532.2 568.2,532.0 570.3,531.5 572.4,531.1 575.6,530.4 577.7,530.0 584.1,531.7 585.2,531.9 586.2,532.2 590.5,539.0 590.9,539.6 594.7,530.7 596.8,525.8 599.0,520.7 600.0,518.4 603.2,510.9 605.0,510.8 607.1,510.7 607.5,510.7 607.8,510.7 611.7,510.5 612.7,508.7 613.4,507.5 613.8,506.8 617.0,501.2 618.1,499.3 620.2,495.6 621.2,493.9 623.3,490.2 623.4,490.0 624.4,488.3 626.6,484.4 627.6,483.5 628.7,482.5 630.4,480.9 632.9,478.6 633.3,478.1 635.0,475.8 636.1,474.3 639.3,470.1 640.3,469.9 640.4,469.9 643.9,469.3 644.6,469.2 645.7,469.0 646.7,468.3 649.9,465.9 651.6,464.6 652.0,464.3 654.2,462.7 656.6,461.3 658.4,460.2 659.4,459.6 659.5,459.5 662.3,458.6 662.6,458.5 665.8,457.4 666.9,458.1 669.3,459.5 672.2,461.2 672.9,460.9 673.3,460.8 676.4,459.6 678.6,458.8 679.2,458.6 679.6,458.4 680.7,458.4 682.1,458.4 684.9,458.4 686.0,458.4 688.1,461.6 688.4,462.1 689.1,463.1 690.2,464.8 692.0,463.5 693.4,462.4 694.5,461.6 694.8,460.5 695.5,458.0 698.3,447.8 698.7,446.3 699.8,447.5 701.6,449.6 701.9,449.9 705.1,441.5 705.4,440.7 705.5,440.4 709.0,442.2 709.3,442.4 710.4,442.9 711.5,443.5 711.8,443.7 712.5,444.0 713.6,444.6 714.6,445.0 715.7,445.5 716.8,445.9 717.8,446.3 718.2,447.0 718.9,448.1 721.0,451.7 721.7,452.8 722.1,453.5 723.1,455.2 723.8,455.1 724.2,455.0 724.5,454.9 728.4,454.2 728.8,454.6 732.3,458.0 733.7,459.4 734.7,460.4 734.8,460.5 737.0,459.6 737.3,459.5 738.0,459.2 739.1,458.8 740.0,458.4 743.4,457.3 745.0,456.7 745.1,456.7 746.8,455.0 748.5,453.3 749.3,452.5 754.4,458.1 754.8,458.0 761.2,455.9 763.8,452.9 767.1,449.1 767.6,449.5 770.5,451.8 771.4,452.5 771.8,452.4 773.6,451.8 773.9,451.7 774.8,451.4 776.5,450.8 779.2,445.8 780.3,443.8 780.4,443.7 780.7,443.1 783.3,445.7 783.8,443.6 785.6,435.9 786.1,433.8 786.7,437.7 789.8,458.1 790.1,460.1 793.4,447.7 795.1,441.4 796.0,438.0 796.2,439.1 796.3,439.6 799.7,457.6 799.8,457.2 803.6,443.1 804.7,442.2 805.7,441.3 806.2,440.9 809.6,438.0 810.0,438.7 813.2,444.2 814.2,446.0 815.5,448.2 819.5,432.1 819.7,431.3 821.7,430.3 823.1,429.6 823.8,424.6 825.7,410.9 825.9,410.7 826.5,409.9 829.1,406.8 829.9,405.8 831.6,403.8 832.5,404.6 833.3,405.3 835.0,406.7 835.9,407.5 838.4,400.7 839.3,398.2 841.8,401.4 842.6,402.4 845.0,393.8 845.2,393.1 845.5,393.8 848.2,400.6 848.6,401.6 852.0,391.4 852.4,391.2 855.6,389.6 856.2,389.3 857.1,388.8 861.3,376.1 862.0,383.4 868.0,446.0 869.9,449.3 871.9,453.9 873.8,456.0 874.2,456.5 874.8,455.7 876.8,457.7 876.9,457.8 877.8,458.7 879.8,461.4 880.8,462.7 880.9,462.9 881.8,464.1 882.3,464.7 883.7,466.6 884.7,475.0 886.3,488.3 887.7,500.0 888.8,520.0 889.8,451.1 890.2,433.7 890.4,421.4 890.5,415.2 893.3,413.9 894.4,413.4 894.5,413.3 895.8,412.7 897.1,414.7 900.0,419.2 900.9,420.7 903.4,424.7 904.2,426.0 904.7,425.3 910.0,417.3 911.0,415.8 912.7,413.3 913.6,414.9 917.0,420.9 920.4,415.2 922.1,412.4 922.9,410.8 926.3,403.9 927.1,404.9 932.2,411.6 939.0,403.3 939.9,402.2 945.0,404.4 945.8,404.8 950.1,401.4 950.9,401.0 956.0,398.8 959.4,402.2 960.2,402.1 964.5,401.4 966.2,401.1 969.6,400.5 975.5,389.5 978.9,402.2 983.1,411.6 984.0,411.0 984.8,410.5 988.2,408.2 991.6,409.0 995.0,403.9 997.6,408.5 998.4,409.9 1001.8,396.3 1005.2,399.7 1006.0,400.5 1010.3,394.9 1012.0,392.7 1012.8,391.7 1015.4,393.3 1017.1,394.4 1018.8,395.4 1020.5,397.1 1022.2,398.8 1025.6,402.9 1027.2,404.8 1028.1,401.6 1031.5,389.5 1035.7,387.0 1036.6,385.9 1040.8,381.0 1044.2,386.1 1045.9,388.7 1049.3,385.3 1050.2,384.4 1053.4,365.8 1054.2,366.0 1061.0,367.7 1061.9,368.0 1063.6,368.4 1067.0,361.6 1070.4,354.8 1072.1,351.4 1072.9,351.3 1073.8,351.2 1078.0,350.8 1079.7,350.6 1080.5,350.5 1082.2,349.8 1085.6,348.4 1086.5,348.0 1090.7,352.8 1091.6,353.9 1092.4,354.8 1095.8,355.4 1096.7,355.6 1098.4,332.6 1099.2,321.8 1102.6,316.1 1103.5,314.6 1104.3,313.3 1105.7,320.3 1106.0,321.8 1107.7,330.3 1109.4,322.6 1111.1,315.0 1112.8,312.4 1114.5,309.9 1115.3,305.8 1116.2,301.1 1117.0,297.0 1117.9,292.4 1118.7,288.2 1119.2,285.7 1119.6,283.6 1122.1,294.3 1122.6,296.4 1123.0,298.1 1125.5,295.6 1126.4,294.7 1128.1,293.0 1128.9,292.2 1129.8,291.3 1133.1,293.5 1134.0,294.2 1134.8,294.7 1135.7,293.3 1136.5,292.1 1138.2,289.6 1141.6,290.9 1142.5,291.3 1145.0,285.5 1145.9,283.4 1146.7,281.5 1147.6,279.4 1148.4,277.8 1149.3,276.0 1150.1,274.3 1151.8,270.9 1152.7,268.2 1154.4,263.1 1155.2,260.7 1157.8,268.5 1158.6,270.9 1161.1,280.2 1162.0,283.6 1165.4,281.9 1167.1,281.1 1167.9,281.1 1168.8,281.1 1171.3,281.1 1172.2,281.1 1174.7,281.4 1177.3,281.7 1178.1,281.8 1179.0,281.9 1182.4,287.6 1184.1,290.4 1184.9,282.2 1186.6,264.8 1187.5,255.6 1187.8,256.4 1188.3,257.9 1190.5,264.1 1191.0,447.0 L1191.0,607.0 Z" fill="#00A000"/><path d="M83.0,607.0 L83.0,607.4 89.2,607.4 92.4,607.4 95.7,607.4 99.6,607.4 105.5,607.4 108.8,607.4 109.4,607.4 115.3,607.4 118.6,607.4 124.4,607.4 132.3,607.3 138.2,607.3 138.8,607.3 144.1,607.3 151.2,607.3 154.5,607.3 158.4,607.3 161.0,607.3 165.0,607.3 171.5,607.3 176.7,607.3 177.4,607.3 180.0,607.3 180.7,607.3 193.7,607.3 202.9,607.3 216.6,607.3 217.3,607.3 219.9,607.3 223.8,607.2 225.1,607.2 227.7,607.2 229.0,607.2 230.0,607.2 231.6,607.2 235.1,607.2 241.9,607.2 247.0,607.2 248.7,607.2 255.5,607.2 261.4,607.2 265.6,607.2 268.2,607.2 270.7,607.2 274.1,607.2 275.8,607.2 280.9,607.2 286.0,607.2 288.5,607.2 291.1,607.2 291.9,607.2 295.3,607.2 296.2,607.2 301.3,607.2 303.0,607.2 306.3,607.2 308.0,607.2 309.7,607.2 311.4,607.2 314.8,607.1 316.5,607.1 320.8,607.1 321.6,607.1 324.2,607.1 326.7,607.1 327.6,607.1 330.1,607.1 331.0,607.1 331.8,607.1 336.9,607.1 338.6,607.1 340.3,607.1 342.0,607.1 342.8,607.1 345.4,607.1 347.1,607.1 352.2,607.1 355.6,607.1 356.4,607.1 358.9,607.1 359.8,607.1 360.0,607.1 364.0,606.4 367.4,605.8 370.8,605.2 375.0,604.5 375.9,604.5 377.6,604.6 379.3,604.6 382.7,604.7 385.2,604.7 386.1,604.7 391.2,604.8 392.9,604.9 400.0,605.0 401.4,605.0 402.4,605.0 406.0,605.0 408.8,605.0 410.6,605.0 412.5,605.0 413.4,605.0 415.2,605.0 418.5,605.0 418.9,605.0 421.7,605.0 425.3,605.0 428.1,605.0 429.9,605.0 431.8,605.0 434.5,605.0 438.2,605.0 441.0,605.0 444.6,605.0 448.3,605.0 450.0,605.0 450.2,605.0 454.8,605.0 457.5,604.9 458.4,599.7 460.3,592.2 461.2,591.9 463.9,591.2 467.6,590.2 468.5,589.9 470.4,588.9 474.1,587.0 476.8,588.2 479.6,589.4 480.5,591.9 483.3,599.5 483.6,599.4 486.9,598.6 490.6,597.7 494.3,596.8 497.0,596.1 498.0,595.8 498.9,595.8 499.8,595.8 500.0,595.8 503.5,595.8 505.3,595.8 506.2,595.8 509.0,595.8 509.9,595.8 512.7,595.8 513.6,594.0 516.3,588.5 519.1,589.2 521.9,590.0 522.8,588.2 526.5,580.8 527.4,580.3 530.1,578.9 532.9,577.4 534.7,578.4 535.6,578.8 538.4,580.3 539.3,580.8 540.0,580.3 542.1,578.7 547.6,574.7 548.5,574.8 552.2,575.1 553.1,575.2 555.9,574.3 556.8,574.1 557.7,573.8 560.0,573.7 564.1,573.5 565.0,573.4 565.1,573.4 566.0,559.1 566.9,544.9 567.1,541.7 568.2,541.6 570.3,541.3 572.4,541.1 575.6,540.7 577.7,541.0 584.1,542.1 585.2,542.2 586.2,542.4 590.5,549.5 590.9,550.2 594.7,540.9 596.8,535.7 599.0,530.4 600.0,527.9 603.2,527.5 605.0,527.3 607.1,527.0 607.5,527.0 607.8,526.9 611.7,526.5 612.7,526.3 613.4,526.2 613.8,526.2 617.0,520.1 618.1,518.0 620.2,513.9 621.2,512.0 623.3,508.0 623.4,507.8 624.4,506.2 626.6,502.7 627.6,501.1 628.7,499.3 630.4,497.1 632.9,493.8 633.3,493.3 635.0,491.1 636.1,489.7 639.3,485.5 640.3,485.1 640.4,485.0 643.9,483.6 644.6,483.3 645.7,482.5 646.7,481.8 649.9,479.5 651.6,478.3 652.0,478.0 654.2,476.5 656.6,474.8 658.4,473.5 659.4,473.3 659.5,473.3 662.3,472.9 662.6,472.9 665.8,472.4 666.9,472.2 669.3,473.4 672.2,474.9 672.9,475.2 673.3,475.4 676.4,474.5 678.6,473.9 679.2,473.7 679.6,473.6 680.7,473.3 682.1,473.8 684.9,474.7 686.0,475.1 688.1,475.8 688.4,475.9 689.1,476.1 690.2,476.5 692.0,475.0 693.4,473.9 694.5,473.0 694.8,472.8 695.5,472.2 698.3,463.2 698.7,461.9 699.8,458.4 701.6,456.7 701.9,456.4 705.1,453.5 705.4,453.2 705.5,453.1 709.0,454.0 709.3,454.1 710.4,454.4 711.5,454.7 711.8,454.7 712.5,454.9 713.6,455.2 714.6,455.6 715.7,456.1 716.8,456.5 717.8,456.9 718.2,457.1 718.9,457.4 721.0,462.8 721.7,464.7 722.1,465.7 723.1,468.3 723.8,470.1 724.2,469.7 724.5,469.5 728.4,465.9 728.8,466.2 732.3,469.1 733.7,470.3 734.7,471.1 734.8,471.2 737.0,470.1 737.3,469.9 738.0,469.6 739.1,469.1 740.0,468.6 743.4,466.9 745.0,466.1 745.1,466.0 746.8,465.3 748.5,464.6 749.3,464.3 754.4,469.4 754.8,469.2 761.2,466.0 763.8,463.4 767.1,460.1 767.6,460.4 770.5,462.1 771.4,462.6 771.8,462.5 773.6,462.3 773.9,462.2 774.8,462.1 776.5,461.8 779.2,456.9 780.3,454.9 780.4,454.7 780.7,454.2 783.3,455.0 783.8,453.5 785.6,448.0 786.1,446.5 786.7,449.4 789.8,464.5 790.1,466.0 793.4,456.0 795.1,450.9 796.0,448.2 796.2,448.9 796.3,449.3 799.7,461.8 799.8,461.5 803.6,451.6 804.7,450.7 805.7,449.8 806.2,449.4 809.6,446.5 810.0,447.0 813.2,451.2 814.2,452.5 815.5,454.2 819.5,438.8 819.7,438.0 821.7,436.5 823.1,435.5 823.8,431.4 825.7,420.2 825.9,419.9 826.5,419.2 829.1,415.8 829.9,414.8 831.6,412.6 832.5,413.3 833.3,413.9 835.0,415.3 835.9,416.0 838.4,409.2 839.3,406.7 841.8,408.6 842.6,409.2 845.0,402.9 845.2,402.4 845.5,402.9 848.2,407.7 848.6,408.4 852.0,398.2 852.4,397.9 855.6,395.2 856.2,394.7 857.1,393.9 861.3,384.6 862.0,391.2 868.0,448.0 869.9,450.1 871.9,452.4 873.8,454.5 874.2,455.0 874.8,456.6 876.8,461.9 876.9,462.2 877.8,464.6 879.8,469.9 880.8,472.5 880.9,472.8 881.8,475.2 882.3,476.5 883.7,484.0 884.7,489.4 886.3,498.0 887.7,516.9 888.8,527.0 889.8,451.1 890.2,450.9 890.4,441.5 890.5,441.1 893.3,428.8 894.4,424.0 894.5,424.1 895.8,425.1 897.1,426.2 900.0,428.5 900.9,429.8 903.4,433.4 904.2,434.5 904.7,433.8 910.0,426.4 911.0,425.0 912.7,422.6 913.6,423.5 917.0,426.8 920.4,421.2 922.1,418.4 922.9,417.4 926.3,413.3 927.1,413.9 932.2,417.5 939.0,412.3 939.9,411.6 945.0,413.8 945.8,414.1 950.1,410.7 950.9,410.3 956.0,407.7 959.4,409.9 960.2,409.8 964.5,409.1 966.2,408.8 969.6,408.2 975.5,398.8 978.9,414.1 983.1,421.7 984.0,421.3 984.8,420.9 988.2,419.2 991.6,417.5 995.0,414.1 997.6,419.9 998.4,421.7 1001.8,410.7 1005.2,412.8 1006.0,413.3 1010.3,408.4 1012.0,406.5 1012.8,405.6 1015.4,406.3 1017.1,406.8 1018.8,407.3 1020.5,409.5 1022.2,411.6 1025.6,416.2 1027.2,418.4 1028.1,415.4 1031.5,403.9 1035.7,403.1 1036.6,402.6 1040.8,400.5 1044.2,402.8 1045.9,403.9 1049.3,401.2 1050.2,400.5 1053.4,381.9 1054.2,382.0 1061.0,383.2 1061.9,383.3 1063.6,383.6 1067.0,376.8 1070.4,370.0 1072.1,366.6 1072.9,365.0 1073.8,365.1 1078.0,365.3 1079.7,365.4 1080.5,365.5 1082.2,364.9 1085.6,363.6 1086.5,363.3 1090.7,367.5 1091.6,368.4 1092.4,368.8 1095.8,370.5 1096.7,370.9 1098.4,347.2 1099.2,336.1 1102.6,334.8 1103.5,334.4 1104.3,335.8 1105.7,338.2 1106.0,338.7 1107.7,345.4 1109.4,352.2 1111.1,345.5 1112.8,338.7 1114.5,337.1 1115.3,333.5 1116.2,329.5 1117.0,326.0 1117.9,322.0 1118.7,318.4 1119.2,319.8 1119.6,320.9 1122.1,327.8 1122.6,329.2 1123.0,330.3 1125.5,327.8 1126.4,326.9 1128.1,325.2 1128.9,324.4 1129.8,325.0 1133.1,327.4 1134.0,328.0 1134.8,328.6 1135.7,327.9 1136.5,327.4 1138.2,326.1 1141.6,330.8 1142.5,332.0 1145.0,325.5 1145.9,323.2 1146.7,321.1 1147.6,318.8 1148.4,316.7 1149.3,314.8 1150.1,313.1 1151.8,309.5 1152.7,307.6 1154.4,304.0 1155.2,302.3 1157.8,309.4 1158.6,311.6 1161.1,319.1 1162.0,321.8 1165.4,320.7 1167.1,320.1 1167.9,320.1 1168.8,320.1 1171.3,320.1 1172.2,320.1 1174.7,320.1 1177.3,320.1 1178.1,321.2 1179.0,322.5 1182.4,327.2 1184.1,329.5 1184.9,323.3 1186.6,310.3 1187.5,303.4 1187.8,301.0 1188.3,297.2 1190.5,308.2 1191.0,447.0 L1191.0,607.0 Z" fill="#0FB0C0"/><path d="M83.0,607.0 L83.0,607.4 89.2,607.4 92.4,607.4 95.7,607.4 99.6,607.4 105.5,607.4 108.8,607.4 109.4,607.4 115.3,607.4 118.6,607.4 124.4,607.4 132.3,607.3 138.2,607.3 138.8,607.3 144.1,607.3 151.2,607.3 154.5,607.3 158.4,607.3 161.0,607.3 165.0,607.3 171.5,607.3 176.7,607.3 177.4,607.3 180.0,607.3 180.7,607.3 193.7,607.3 202.9,607.3 216.6,607.3 217.3,607.3 219.9,607.3 223.8,607.2 225.1,607.2 227.7,607.2 229.0,607.2 230.0,607.2 231.6,607.2 235.1,607.2 241.9,607.2 247.0,607.2 248.7,607.2 255.5,607.2 261.4,607.2 265.6,607.2 268.2,607.2 270.7,607.2 274.1,607.2 275.8,607.2 280.9,607.2 286.0,607.2 288.5,607.2 291.1,607.2 291.9,607.2 295.3,607.2 296.2,607.2 301.3,607.2 303.0,607.2 306.3,607.2 308.0,607.2 309.7,607.2 311.4,607.2 314.8,607.1 316.5,607.1 320.8,607.1 321.6,607.1 324.2,607.1 326.7,607.1 327.6,607.1 330.1,607.1 331.0,607.1 331.8,607.1 336.9,607.1 338.6,607.1 340.3,607.1 342.0,607.1 342.8,607.1 345.4,607.1 347.1,607.1 352.2,607.1 355.6,607.1 356.4,607.1 358.9,607.1 359.8,607.1 360.0,607.1 364.0,606.4 367.4,605.8 370.8,605.2 375.0,604.5 375.9,604.5 377.6,604.6 379.3,604.6 382.7,604.7 385.2,604.7 386.1,604.7 391.2,604.8 392.9,604.9 400.0,605.0 401.4,605.0 402.4,605.0 406.0,605.0 408.8,605.0 410.6,605.0 412.5,605.0 413.4,605.0 415.2,605.0 418.5,605.0 418.9,605.0 421.7,605.0 425.3,605.0 428.1,605.0 429.9,605.0 431.8,605.0 434.5,605.0 438.2,605.0 441.0,605.0 444.6,605.0 448.3,605.0 450.0,605.0 450.2,605.0 454.8,605.0 457.5,604.9 458.4,604.9 460.3,604.9 461.2,604.9 463.9,604.9 467.6,604.8 468.5,604.8 470.4,604.8 474.1,604.8 476.8,604.7 479.6,604.7 480.5,604.7 483.3,604.7 483.6,604.7 486.9,604.6 490.6,604.6 494.3,604.6 497.0,604.5 498.0,604.5 498.9,604.5 499.8,604.5 500.0,604.5 503.5,604.4 505.3,604.4 506.2,604.3 509.0,604.3 509.9,604.3 512.7,601.7 513.6,599.8 516.3,594.0 519.1,594.9 521.9,595.8 522.8,594.1 526.5,587.4 527.4,585.7 530.1,583.9 532.9,582.0 534.7,582.5 535.6,582.8 538.4,583.6 539.3,583.9 540.0,583.4 542.1,582.0 547.6,578.4 548.5,578.2 552.2,577.4 553.1,577.3 555.9,576.7 556.8,576.5 557.7,576.4 560.0,576.0 564.1,575.4 565.0,575.2 565.1,575.2 566.0,562.5 566.9,549.8 567.1,547.0 568.2,546.8 570.3,546.4 572.4,545.9 575.6,545.3 577.7,545.4 584.1,545.9 585.2,545.9 586.2,546.0 590.5,552.8 590.9,553.4 594.7,545.9 596.8,541.7 599.0,537.4 600.0,535.4 603.2,535.1 605.0,535.0 607.1,534.8 607.5,534.8 607.8,534.8 611.7,534.5 612.7,534.4 613.4,534.3 613.8,534.3 617.0,527.6 618.1,525.3 620.2,520.8 621.2,518.7 623.3,514.3 623.4,514.1 624.4,512.0 626.6,510.2 627.6,509.4 628.7,508.6 630.4,507.2 632.9,505.2 633.3,504.9 635.0,503.5 636.1,503.4 639.3,503.1 640.3,502.9 640.4,502.9 643.9,502.6 644.6,502.5 645.7,502.0 646.7,501.5 649.9,499.9 651.6,498.6 652.0,498.3 654.2,496.7 656.6,494.9 658.4,493.5 659.4,493.2 659.5,493.2 662.3,492.4 662.6,492.3 665.8,491.4 666.9,491.8 669.3,492.8 672.2,494.0 672.9,494.2 673.3,494.4 676.4,493.7 678.6,493.1 679.2,493.0 679.6,492.9 680.7,492.9 682.1,492.9 684.9,492.9 686.0,493.6 688.1,494.8 688.4,495.0 689.1,495.4 690.2,496.1 692.0,492.7 693.4,490.1 694.5,488.1 694.8,487.5 695.5,486.2 698.3,480.9 698.7,480.2 699.8,479.3 701.6,477.8 701.9,477.6 705.1,474.9 705.4,475.0 705.5,475.0 709.0,475.7 709.3,475.7 710.4,475.9 711.5,476.2 711.8,476.2 712.5,476.4 713.6,476.6 714.6,476.8 715.7,477.0 716.8,478.8 717.8,480.4 718.2,481.1 718.9,482.2 721.0,485.6 721.7,486.7 722.1,487.4 723.1,489.0 723.8,490.2 724.2,490.8 724.5,490.6 728.4,487.6 728.8,487.9 732.3,490.2 733.7,491.1 734.7,491.7 734.8,491.8 737.0,490.7 737.3,490.6 738.0,490.2 739.1,489.7 740.0,489.7 743.4,489.7 745.0,489.7 745.1,489.6 746.8,487.3 748.5,485.0 749.3,485.5 754.4,489.0 754.8,489.3 761.2,486.5 763.8,484.3 767.1,481.6 767.6,481.2 770.5,483.0 771.4,483.6 771.8,483.8 773.6,482.1 773.9,481.9 774.8,481.0 776.5,479.5 779.2,477.0 780.3,477.4 780.4,477.4 780.7,477.5 783.3,478.3 783.8,478.5 785.6,479.1 786.1,480.7 786.7,482.7 789.8,492.9 790.1,492.7 793.4,489.9 795.1,488.5 796.0,487.8 796.2,487.6 796.3,487.9 799.7,497.9 799.8,498.2 803.6,491.6 804.7,489.7 805.7,489.3 806.2,489.1 809.6,487.8 810.0,487.6 813.2,490.0 814.2,490.8 815.5,489.2 819.5,484.4 819.7,484.3 821.7,483.8 823.1,483.5 823.8,483.3 825.7,466.0 825.9,464.2 826.5,463.8 829.1,462.3 829.9,461.8 831.6,460.1 832.5,459.2 833.3,458.4 835.0,456.7 835.9,455.6 838.4,452.5 839.3,453.2 841.8,455.0 842.6,453.2 845.0,447.8 845.2,447.4 845.5,447.8 848.2,451.1 848.6,451.6 852.0,447.4 852.4,447.2 855.6,445.6 856.2,445.3 857.1,444.8 861.3,439.7 862.0,441.6 868.0,458.0 869.9,466.5 871.9,475.5 873.8,484.1 874.2,485.9 874.8,487.0 876.8,490.6 876.9,490.8 877.8,492.4 879.8,496.0 880.8,497.8 880.9,498.0 881.8,502.0 882.3,504.3 883.7,510.5 884.7,515.0 886.3,522.2 887.7,527.6 888.8,560.0 889.8,449.6 890.2,449.4 890.4,449.2 890.5,449.2 893.3,447.5 894.4,446.9 894.5,447.0 895.8,448.9 897.1,450.7 900.0,454.8 900.9,455.9 903.4,458.9 904.2,459.9 904.7,459.2 910.0,451.8 911.0,450.4 912.7,448.0 913.6,448.7 917.0,451.4 920.4,446.8 922.1,444.4 922.9,443.3 926.3,438.7 927.1,439.2 932.2,442.1 939.0,438.0 939.9,437.5 945.0,440.0 945.8,440.4 950.1,437.5 950.9,437.0 956.0,435.3 959.4,437.1 960.2,437.5 964.5,436.7 966.2,436.4 969.6,435.8 975.5,427.7 978.9,441.3 983.1,449.7 984.0,451.5 984.8,453.1 988.2,450.5 991.6,448.0 995.0,444.7 997.6,449.2 998.4,450.6 1001.8,438.7 1005.2,443.0 1006.0,442.0 1010.3,436.7 1012.0,434.6 1012.8,433.6 1015.4,435.1 1017.1,436.0 1018.8,437.0 1020.5,437.9 1022.2,439.8 1025.6,443.7 1027.2,445.5 1028.1,443.0 1031.5,433.6 1035.7,432.8 1036.6,432.3 1040.8,430.2 1044.2,431.9 1045.9,432.8 1049.3,434.5 1050.2,431.9 1053.4,422.5 1054.2,420.1 1061.0,425.0 1061.9,425.7 1063.6,426.9 1067.0,420.7 1070.4,414.4 1072.1,411.3 1072.9,409.8 1073.8,408.2 1078.0,409.4 1079.7,409.9 1080.5,409.4 1082.2,408.4 1085.6,406.3 1086.5,405.7 1090.7,409.2 1091.6,409.9 1092.4,410.6 1095.8,413.4 1096.7,414.2 1098.4,392.2 1099.2,381.9 1102.6,380.2 1103.5,379.8 1104.3,379.4 1105.7,383.6 1106.0,384.5 1107.7,389.6 1109.4,394.7 1111.1,388.3 1112.8,381.9 1114.5,382.5 1115.3,382.8 1116.2,378.1 1117.0,373.9 1117.9,369.2 1118.7,365.0 1119.2,366.7 1119.6,368.1 1122.1,376.8 1122.6,376.3 1123.0,375.9 1125.5,373.5 1126.4,372.6 1128.1,370.9 1128.9,371.0 1129.8,371.2 1133.1,371.8 1134.0,372.0 1134.8,372.2 1135.7,372.4 1136.5,372.6 1138.2,373.7 1141.6,376.0 1142.5,373.6 1145.0,367.1 1145.9,364.7 1146.7,362.6 1147.6,360.3 1148.4,358.2 1149.3,357.6 1150.1,357.0 1151.8,355.8 1152.7,355.1 1154.4,353.9 1155.2,356.0 1157.8,363.0 1158.6,365.1 1161.1,371.8 1162.0,371.3 1165.4,369.2 1167.1,369.9 1167.9,370.2 1168.8,370.6 1171.3,370.0 1172.2,369.8 1174.7,369.2 1177.3,371.3 1178.1,371.9 1179.0,372.6 1182.4,379.4 1184.1,382.8 1184.9,376.2 1186.6,362.2 1187.5,354.8 1187.8,355.6 1188.3,356.8 1190.5,362.4 1191.0,447.0 L1191.0,607.0 Z" fill="#7E858D"/><path d="M83.0,607.0 L83.0,605.9 89.2,605.9 92.4,605.9 95.7,605.9 99.6,605.9 105.5,605.9 108.8,605.9 109.4,605.9 115.3,605.9 118.6,605.9 124.4,605.9 132.3,605.8 138.2,605.8 138.8,605.8 144.1,605.8 151.2,605.8 154.5,605.8 158.4,605.8 161.0,605.8 165.0,605.8 171.5,605.8 176.7,605.8 177.4,605.8 180.0,605.8 180.7,605.8 193.7,605.8 202.9,605.8 216.6,605.8 217.3,605.8 219.9,605.8 223.8,605.7 225.1,605.7 227.7,605.7 229.0,605.7 230.0,605.7 231.6,605.7 235.1,605.7 241.9,605.7 247.0,605.7 248.7,605.7 255.5,605.7 261.4,605.7 265.6,605.7 268.2,605.7 270.7,605.7 274.1,605.7 275.8,605.7 280.9,605.7 286.0,605.7 288.5,605.7 291.1,605.7 291.9,605.7 295.3,605.7 296.2,605.7 301.3,605.7 303.0,605.7 306.3,605.7 308.0,605.7 309.7,605.7 311.4,605.7 314.8,605.6 316.5,605.6 320.8,605.6 321.6,605.6 324.2,605.6 326.7,605.6 327.6,605.6 330.1,605.6 331.0,605.6 331.8,605.6 336.9,605.6 338.6,605.6 340.3,605.6 342.0,605.6 342.8,605.6 345.4,605.6 347.1,605.6 352.2,605.6 355.6,605.6 356.4,605.6 358.9,605.6 359.8,605.6 360.0,605.6 364.0,604.9 367.4,604.3 370.8,603.7 375.0,603.0 375.9,603.0 377.6,603.1 379.3,603.1 382.7,603.2 385.2,603.2 386.1,603.2 391.2,603.3 392.9,603.4 400.0,603.5 401.4,603.5 402.4,603.5 406.0,603.5 408.8,603.5 410.6,603.5 412.5,603.5 413.4,603.5 415.2,603.5 418.5,603.5 418.9,603.5 421.7,603.5 425.3,603.5 428.1,603.5 429.9,603.5 431.8,603.5 434.5,603.5 438.2,603.5 441.0,603.5 444.6,603.5 448.3,603.5 450.0,603.5 450.2,603.5 454.8,603.5 457.5,603.4 458.4,603.4 460.3,603.4 461.2,603.4 463.9,603.4 467.6,603.3 468.5,603.3 470.4,603.3 474.1,603.3 476.8,603.2 479.6,603.2 480.5,603.2 483.3,603.2 483.6,603.2 486.9,603.1 490.6,603.1 494.3,603.1 497.0,603.0 498.0,603.0 498.9,603.0 499.8,603.0 500.0,603.0 503.5,602.9 505.3,602.9 506.2,602.8 509.0,602.8 509.9,602.8 512.7,602.7 513.6,602.7 516.3,602.6 519.1,602.5 521.9,602.5 522.8,602.4 526.5,602.3 527.4,602.3 530.1,602.2 532.9,602.2 534.7,602.1 535.6,602.1 538.4,602.0 539.3,602.0 540.0,602.0 542.1,601.9 547.6,601.6 548.5,601.6 552.2,601.4 553.1,601.3 555.9,601.2 556.8,601.2 557.7,601.1 560.0,601.0 564.1,600.3 565.0,600.1 565.1,600.1 566.0,600.1 566.9,600.1 567.1,600.1 568.2,600.1 570.3,600.1 572.4,600.1 575.6,600.1 577.7,600.1 584.1,600.1 585.2,600.1 586.2,600.1 590.5,600.1 590.9,599.8 594.7,596.9 596.8,595.6 599.0,594.2 600.0,593.6 603.2,591.6 605.0,591.4 607.1,591.2 607.5,591.1 607.8,591.1 611.7,590.6 612.7,590.5 613.4,590.4 613.8,590.4 617.0,590.0 618.1,589.9 620.2,589.8 621.2,589.8 623.3,589.8 623.4,589.8 624.4,589.7 626.6,589.7 627.6,589.7 628.7,589.6 630.4,589.6 632.9,589.5 633.3,589.5 635.0,589.5 636.1,589.4 639.3,589.4 640.3,589.3 640.4,589.3 643.9,589.3 644.6,589.2 645.7,589.2 646.7,589.2 649.9,589.1 651.6,588.4 652.0,588.3 654.2,587.4 656.6,587.4 658.4,587.4 659.4,587.5 659.5,587.5 662.3,587.5 662.6,587.5 665.8,587.5 666.9,587.5 669.3,587.6 672.2,587.6 672.9,587.6 673.3,587.6 676.4,587.7 678.6,587.7 679.2,587.7 679.6,587.7 680.7,587.7 682.1,587.7 684.9,587.8 686.0,587.8 688.1,587.8 688.4,587.8 689.1,587.7 690.2,587.5 692.0,587.3 693.4,587.1 694.5,586.9 694.8,586.0 695.5,583.7 698.3,574.9 698.7,573.6 699.8,573.6 701.6,573.6 701.9,573.6 705.1,573.6 705.4,573.6 705.5,573.6 709.0,573.6 709.3,573.6 710.4,573.7 711.5,573.8 711.8,573.8 712.5,573.9 713.6,573.9 714.6,574.0 715.7,574.1 716.8,574.2 717.8,574.3 718.2,574.3 718.9,574.4 721.0,574.5 721.7,574.6 722.1,574.6 723.1,574.3 723.8,574.1 724.2,574.0 724.5,574.0 728.4,572.9 728.8,572.9 732.3,572.5 733.7,572.4 734.7,572.3 734.8,572.3 737.0,572.1 737.3,572.1 738.0,572.0 739.1,571.9 740.0,571.9 743.4,571.5 745.0,571.4 745.1,571.3 746.8,569.5 748.5,567.7 749.3,567.8 754.4,568.5 754.8,568.6 761.2,567.9 763.8,567.5 767.1,567.2 767.6,567.1 770.5,567.1 771.4,567.1 771.8,567.1 773.6,567.1 773.9,567.1 774.8,566.6 776.5,565.8 779.2,564.4 780.3,563.9 780.4,563.9 780.7,563.9 783.3,564.1 783.8,564.2 785.6,564.3 786.1,565.3 786.7,566.4 789.8,572.4 790.1,572.4 793.4,572.1 795.1,572.0 796.0,572.7 796.2,572.8 796.3,572.9 799.7,575.5 799.8,575.6 803.6,573.8 804.7,573.3 805.7,572.8 806.2,572.8 809.6,573.2 810.0,573.2 813.2,573.5 814.2,572.9 815.5,572.2 819.5,569.9 819.7,569.8 821.7,568.6 823.1,561.0 823.8,557.3 825.7,547.0 825.9,545.9 826.5,545.7 829.1,544.8 829.9,543.9 831.6,542.1 832.5,541.1 833.3,540.2 835.0,538.7 835.9,537.9 838.4,535.8 839.3,535.0 841.8,532.8 842.6,532.1 845.0,530.0 845.2,530.1 845.5,530.3 848.2,531.7 848.6,531.3 852.0,528.3 852.4,527.9 855.6,528.3 856.2,528.0 857.1,527.5 861.3,525.1 862.0,524.7 868.0,558.5 869.9,558.2 871.9,557.9 873.8,557.7 874.2,557.6 874.8,557.5 876.8,557.2 876.9,557.2 877.8,557.8 879.8,559.2 880.8,559.8 880.9,559.9 881.8,564.9 882.3,567.7 883.7,575.4 884.7,581.0 886.3,589.8 887.7,597.6 888.8,600.0 889.8,549.7 890.2,529.6 890.4,519.5 890.5,519.5 893.3,520.5 894.4,520.9 894.5,520.9 895.8,520.9 897.1,520.9 900.0,520.9 900.9,521.7 903.4,523.9 904.2,524.6 904.7,523.9 910.0,516.0 911.0,514.5 912.7,514.9 913.6,515.1 917.0,515.8 920.4,513.8 922.1,512.9 922.9,512.4 926.3,506.2 927.1,504.8 932.2,506.5 939.0,504.2 939.9,503.9 945.0,505.4 945.8,505.6 950.1,501.9 950.9,501.7 956.0,500.2 959.4,501.4 960.2,501.3 964.5,500.9 966.2,500.8 969.6,500.5 975.5,495.8 978.9,508.2 983.1,515.9 984.0,517.5 984.8,517.2 988.2,515.8 991.6,513.2 995.0,510.7 997.6,514.6 998.4,515.8 1001.8,505.6 1005.2,509.4 1006.0,507.9 1010.3,499.7 1012.0,499.7 1012.8,499.7 1015.4,499.7 1017.1,500.1 1018.8,500.5 1020.5,500.9 1022.2,503.9 1025.6,509.9 1027.2,509.6 1028.1,509.4 1031.5,497.1 1035.7,497.1 1036.6,496.8 1040.8,495.4 1044.2,496.5 1045.9,497.1 1049.3,495.8 1050.2,495.4 1053.4,486.4 1054.2,484.1 1061.0,487.4 1061.9,487.9 1063.6,488.7 1067.0,485.3 1070.4,481.9 1072.1,477.7 1072.9,475.7 1073.8,473.5 1078.0,472.9 1079.7,472.7 1080.5,472.6 1082.2,471.6 1085.6,469.7 1086.5,469.2 1090.7,472.3 1091.6,472.9 1092.4,473.5 1095.8,476.0 1096.7,475.2 1098.4,473.7 1099.2,473.0 1102.6,470.1 1103.5,470.6 1104.3,471.0 1105.7,471.7 1106.0,471.8 1107.7,475.6 1109.4,479.4 1111.1,475.2 1112.8,470.9 1114.5,470.7 1115.3,470.6 1116.2,467.9 1117.0,465.5 1117.9,462.9 1118.7,460.5 1119.2,459.0 1119.6,459.7 1122.1,464.1 1122.6,465.0 1123.0,464.1 1125.5,458.5 1126.4,456.5 1128.1,456.5 1128.9,456.5 1129.8,456.5 1133.1,456.5 1134.0,456.2 1134.8,455.9 1135.7,455.6 1136.5,455.4 1138.2,454.8 1141.6,458.7 1142.5,457.1 1145.0,452.7 1145.9,451.1 1146.7,449.7 1147.6,449.6 1148.4,449.4 1149.3,449.3 1150.1,449.2 1151.8,448.9 1152.7,448.8 1154.4,448.5 1155.2,449.9 1157.8,454.3 1158.6,455.6 1161.1,459.9 1162.0,459.5 1165.4,458.2 1167.1,459.0 1167.9,459.5 1168.8,459.9 1171.3,459.7 1172.2,459.6 1174.7,459.4 1177.3,460.7 1178.1,461.1 1179.0,461.6 1182.4,462.1 1184.1,462.4 1184.9,457.6 1186.6,447.5 1187.5,442.1 1187.8,442.4 1188.3,443.0 1190.5,445.5 1191.0,445.5 L1191.0,607.0 Z" fill="#174791"/>
<line x1="82" x2="1192" y1="607.25" y2="607.25" stroke="#1a1a1a" stroke-width="1"/>
<text x="69.2" y="612.9" textLength="9.4" lengthAdjust="spacingAndGlyphs" class="yl">0</text><text x="26.9" y="454.7" textLength="51.7" lengthAdjust="spacingAndGlyphs" class="yl">10,000</text><text x="26.9" y="296.7" textLength="51.7" lengthAdjust="spacingAndGlyphs" class="yl">20,000</text><text x="26.9" y="138.6" textLength="51.7" lengthAdjust="spacingAndGlyphs" class="yl">30,000</text>
<text transform="translate(89.2,612.4) rotate(-90)" text-anchor="end" textLength="85.2" lengthAdjust="spacingAndGlyphs" class="xl">01/01/2024</text><text transform="translate(190.2,612.4) rotate(-90)" text-anchor="end" textLength="85.2" lengthAdjust="spacingAndGlyphs" class="xl">02/01/2024</text><text transform="translate(284.6,612.4) rotate(-90)" text-anchor="end" textLength="85.2" lengthAdjust="spacingAndGlyphs" class="xl">03/01/2024</text><text transform="translate(385.6,612.4) rotate(-90)" text-anchor="end" textLength="85.2" lengthAdjust="spacingAndGlyphs" class="xl">04/01/2024</text><text transform="translate(483.4,612.4) rotate(-90)" text-anchor="end" textLength="85.2" lengthAdjust="spacingAndGlyphs" class="xl">05/01/2024</text><text transform="translate(584.3,612.4) rotate(-90)" text-anchor="end" textLength="85.2" lengthAdjust="spacingAndGlyphs" class="xl">06/01/2024</text><text transform="translate(682.1,612.4) rotate(-90)" text-anchor="end" textLength="85.2" lengthAdjust="spacingAndGlyphs" class="xl">07/01/2024</text><text transform="translate(783.0,612.4) rotate(-90)" text-anchor="end" textLength="85.2" lengthAdjust="spacingAndGlyphs" class="xl">08/01/2024</text><text transform="translate(884.0,612.4) rotate(-90)" text-anchor="end" textLength="85.2" lengthAdjust="spacingAndGlyphs" class="xl">09/01/2024</text><text transform="translate(981.8,612.4) rotate(-90)" text-anchor="end" textLength="85.2" lengthAdjust="spacingAndGlyphs" class="xl">10/01/2024</text><text transform="translate(1082.7,612.4) rotate(-90)" text-anchor="end" textLength="85.2" lengthAdjust="spacingAndGlyphs" class="xl">11/01/2024</text><text transform="translate(1180.5,612.4) rotate(-90)" text-anchor="end" textLength="85.2" lengthAdjust="spacingAndGlyphs" class="xl">12/01/2024</text>
</svg>
</body></html>
